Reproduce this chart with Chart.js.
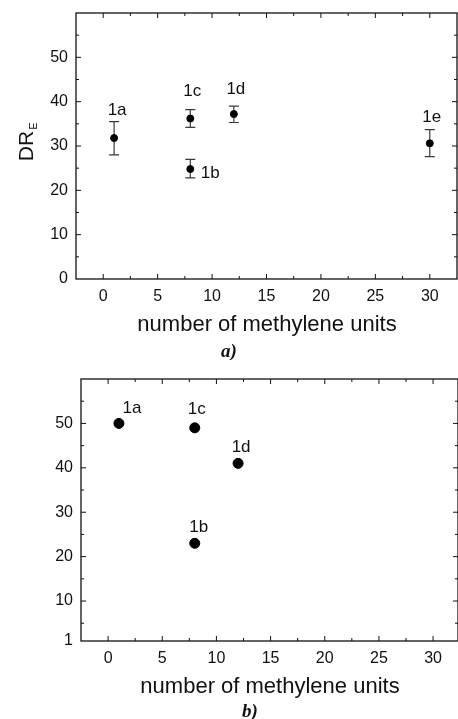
<!DOCTYPE html>
<html>
<head>
<meta charset="utf-8">
<script src="https://cdn.jsdelivr.net/npm/chart.js@4/dist/chart.umd.min.js"></script>
<style>
body{margin:0;background:#fff;}
.panel{position:absolute;left:0;width:458px;}
</style>
</head>
<body>
<div class="panel" style="top:0;height:360px"><canvas id="chartA"></canvas></div>
<div class="panel" style="top:360px;height:359px"><canvas id="chartB"></canvas></div>
<script>
// panel a) : DR_E with error bars
var labelsA = ['1a', '1b', '1c', '1d', '1e'];
var unitsA = [1, 8, 8, 12, 30];
var drA = [31.8, 24.8, 36.2, 37.2, 30.6];
var errLowA = [28.0, 22.8, 34.2, 35.3, 27.6];
var errHighA = [35.5, 27.0, 38.2, 39.0, 33.7];

// panel b)
var labelsB = ['1a', '1b', '1c', '1d'];
var unitsB = [1, 8, 8, 12];
var drB = [50, 23, 49, 41];

var xTicks = [0, 5, 10, 15, 20, 25, 30];
var yTicksA = [0, 10, 20, 30, 40, 50];
var yTicksB = [1, 10, 20, 30, 40, 50];

// label placement (pixels from the point centre)
var offsA = {'1a': [3, -28], '1b': [20, 4], '1c': [2, -27], '1d': [2, -25], '1e': [2, -26]};
var offsB = {'1a': [13, -15], '1b': [4, -16], '1c': [2, -19], '1d': [3, -16]};

var FONT = '"Liberation Sans", Arial, Helvetica, sans-serif';

function toPoints(xs, ys){
	var pts = [];
	for(var i=0;i<xs.length;i++){
		pts.push({x: xs[i], y: ys[i]});
	}
	return pts;
}

var decor = {
	id: 'decor',
	beforeDatasetsDraw: function(chart){
		var o = chart.options.plugins.decor;
		if(!o.low) return;
		var ctx = chart.ctx, xs = chart.scales.x, ys = chart.scales.y;
		ctx.save();
		ctx.strokeStyle = '#3a3a3a';
		ctx.lineWidth = 1.2;
		for(var i=0;i<o.xv.length;i++){
			var px = xs.getPixelForValue(o.xv[i]);
			var lo = ys.getPixelForValue(o.low[i]);
			var hi = ys.getPixelForValue(o.high[i]);
			ctx.beginPath();
			ctx.moveTo(px, lo); ctx.lineTo(px, hi);
			ctx.moveTo(px-5, lo); ctx.lineTo(px+5, lo);
			ctx.moveTo(px-5, hi); ctx.lineTo(px+5, hi);
			ctx.stroke();
		}
		ctx.restore();
	},
	afterDatasetsDraw: function(chart){
		var o = chart.options.plugins.decor;
		var ctx = chart.ctx, a = chart.chartArea;
		var xs = chart.scales.x, ys = chart.scales.y;
		ctx.save();
		ctx.strokeStyle = '#111';
		ctx.lineWidth = 1.3;
		ctx.strokeRect(a.left, a.top, a.right-a.left, a.bottom-a.top);

		// inward ticks on all four sides
		ctx.lineWidth = 1;
		ctx.beginPath();
		for(var v=-2.5; v<=xs.max+0.01; v+=2.5){
			var px = xs.getPixelForValue(v);
			if(px < a.left+1 || px > a.right-1) continue;
			var len = (v % 5 === 0) ? 5 : 3;
			ctx.moveTo(px, a.bottom); ctx.lineTo(px, a.bottom-len);
			ctx.moveTo(px, a.top); ctx.lineTo(px, a.top+len);
		}
		for(var w=5; w<=ys.max; w+=5){
			var py = ys.getPixelForValue(w);
			if(py > a.bottom-1 || py < a.top+1) continue;
			var l2 = (w % 10 === 0) ? 5 : 3;
			ctx.moveTo(a.left, py); ctx.lineTo(a.left+l2, py);
			ctx.moveTo(a.right, py); ctx.lineTo(a.right-l2, py);
		}
		ctx.stroke();

		// point labels
		ctx.fillStyle = '#111';
		ctx.font = '17px ' + FONT;
		ctx.textAlign = 'center';
		ctx.textBaseline = 'middle';
		for(var i=0;i<o.names.length;i++){
			var off = o.offs[o.names[i]];
			ctx.fillText(o.names[i], xs.getPixelForValue(o.xv[i]) + off[0], ys.getPixelForValue(o.yv[i]) + off[1]);
		}

		// x title
		ctx.font = '22px ' + FONT;
		ctx.fillText('number of methylene units', o.xTitle[0], o.xTitle[1]);

		// y title DR with subscript E
		ctx.save();
		ctx.translate(o.yTitle[0], o.yTitle[1]);
		ctx.rotate(-Math.PI/2);
		ctx.font = o.yTitle[2] + 'px ' + FONT;
		ctx.textAlign = 'left';
		ctx.textBaseline = 'alphabetic';
		var wDR = ctx.measureText('DR').width;
		ctx.fillText('DR', -wDR/2 - 4, 8);
		ctx.font = '11px ' + FONT;
		ctx.fillText('E', wDR/2 - 3, 12);
		ctx.restore();

		// panel label
		ctx.font = 'italic bold 19px "Liberation Serif", "Times New Roman", serif';
		ctx.fillText(o.panel, o.panelPos[0], o.panelPos[1]);
		ctx.restore();
	}
};

function makeChart(id, pts, radius, yMin, yTicks, xMax, fit, deco){
	var ctx = document.getElementById(id);
	return new Chart(ctx, {
		type: 'scatter',
		data: {
			datasets: [{
				data: pts,
				backgroundColor: '#000',
				borderColor: '#000',
				pointRadius: radius,
				pointHoverRadius: radius
			}]
		},
		options: {
			responsive: true,
			maintainAspectRatio: false,
			devicePixelRatio: 1,
			animation: false,
			layout: {autoPadding: false, padding: {top: fit.top, right: fit.right, left: 0, bottom: 0}},
			plugins: {legend: {display: false}, tooltip: {enabled: false}, decor: deco},
			scales: {
				x: {
					type: 'linear', min: -2.5, max: xMax,
					grid: {display: false, drawTicks: false},
					border: {display: false},
					afterBuildTicks: function(s){ s.ticks = xTicks.map(function(v){ return {value: v}; }); },
					afterFit: function(s){ s.height = fit.xh; s.paddingLeft = 0; s.paddingRight = 0; },
					ticks: {padding: 8, color: '#111', font: {family: FONT, size: 16}, maxRotation: 0}
				},
				y: {
					type: 'linear', min: yMin, max: 60,
					grid: {display: false, drawTicks: false},
					border: {display: false},
					afterBuildTicks: function(s){ s.ticks = yTicks.map(function(v){ return {value: v}; }); },
					afterFit: function(s){ s.width = fit.yw; s.paddingTop = 0; s.paddingBottom = 0; },
					ticks: {padding: 8, color: '#111', font: {family: FONT, size: 16}}
				}
			}
		},
		plugins: [decor]
	});
}

makeChart('chartA', toPoints(unitsA, drA), 3.5, 0, yTicksA, 32.5,
	{top: 13, right: 1, xh: 81, yw: 76},
	{names: labelsA, xv: unitsA, yv: drA, low: errLowA, high: errHighA, offs: offsA,
	 xTitle: [267, 325], yTitle: [25, 142, 21], panel: 'a)', panelPos: [229, 352]});

makeChart('chartB', toPoints(unitsB, drB), 5, 1, yTicksB, 32.3,
	{top: 19, right: 0, xh: 78, yw: 81},
	{names: labelsB, xv: unitsB, yv: drB, low: null, high: null, offs: offsB,
	 xTitle: [270, 327], yTitle: [24, 518, 20], panel: 'b)', panelPos: [250, 352]});
</script>
</body>
</html>
